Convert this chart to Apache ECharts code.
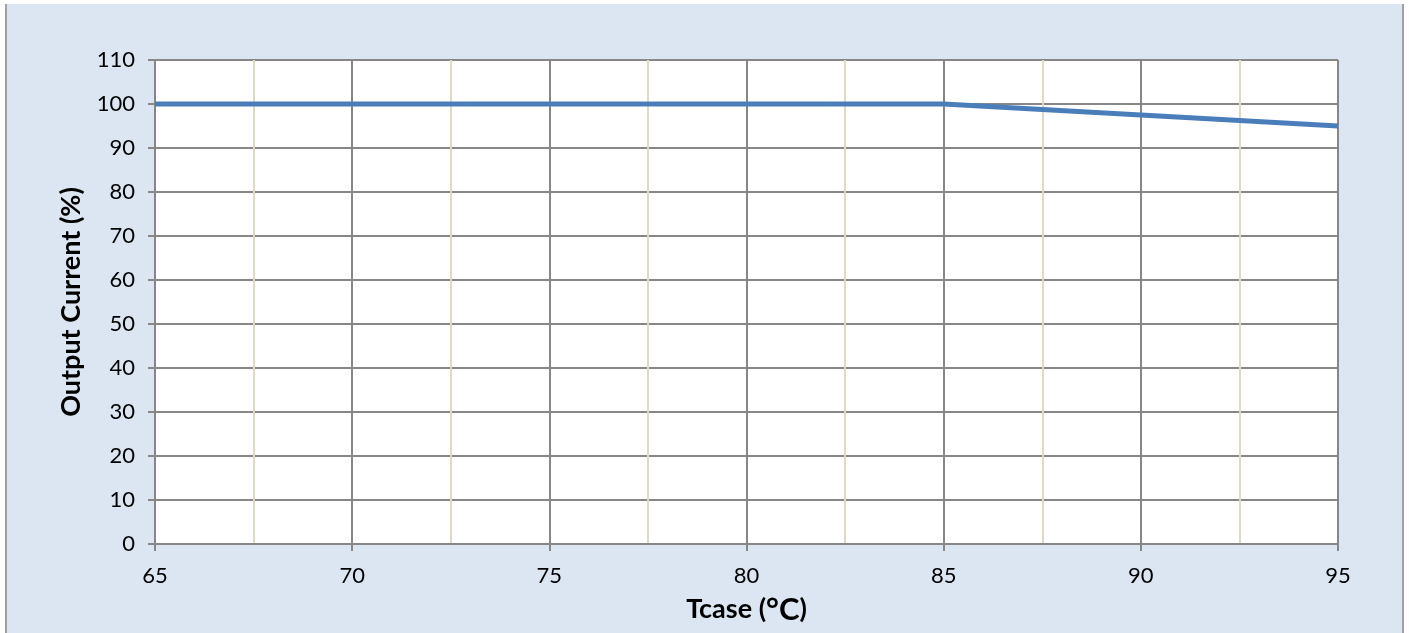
<!DOCTYPE html>
<html><head><meta charset="utf-8">
<script src="https://cdn.jsdelivr.net/npm/echarts@6/dist/echarts.min.js"></script>
<style>
html,body{margin:0;padding:0;background:#fff;}
#wrap{position:absolute;left:5px;top:4px;width:1395px;height:629px;background:#dce6f2;border-left:2px solid #a0a0a0;border-right:2px solid #a0a0a0;}
#c{position:absolute;left:0;top:0;width:1409px;height:633px;}
</style></head>
<body>
<div id="wrap"></div>
<div id="c"></div>
<script>
const tcase = [65, 85, 90, 95];
const outputCurrent = [100, 100, 97.5, 95];
const xTicks = [65, 70, 75, 80, 85, 90, 95];
const yTicks = [0, 10, 20, 30, 40, 50, 60, 70, 80, 90, 100, 110];

const font = 'Lato, "Open Sans", sans-serif';
const chart = echarts.init(document.getElementById('c'), null, {renderer: 'canvas'});
chart.setOption({
  backgroundColor: 'transparent',
  animation: false,
  grid: {left: 155, right: 71, top: 60, bottom: 89, containLabel: false,
         show: true, backgroundColor: '#ffffff', borderWidth: 0},
  xAxis: {
    type: 'value', min: xTicks[0], max: xTicks[xTicks.length - 1], interval: 5,
    name: '{a|Tcase (}{b|°C}{a|)}', nameLocation: 'middle', nameGap: 50,
    nameTextStyle: {fontFamily: font, fontWeight: 'bold', fontSize: 27, color: '#000',
      rich: {
        a: {fontFamily: font, fontWeight: 'bold', fontSize: 27, color: '#000'},
        b: {fontFamily: font, fontWeight: 'bold', fontSize: 31, color: '#000'}
      }},
    axisLine: {show: true, lineStyle: {color: '#878787', width: 2}},
    axisTick: {show: true, length: 7, lineStyle: {color: '#878787', width: 2}},
    axisLabel: {fontFamily: font, fontSize: 22, color: '#000', margin: 21},
    splitLine: {show: true, lineStyle: {color: '#878787', width: 2}},
    minorTick: {show: false, splitNumber: 2},
    minorSplitLine: {show: true, lineStyle: {color: '#ddd9c3', width: 2}}
  },
  yAxis: {
    type: 'value', min: yTicks[0], max: yTicks[yTicks.length - 1], interval: 10,
    name: 'Output Current (%)', nameLocation: 'middle', nameGap: 70, nameRotate: 90,
    nameTextStyle: {fontFamily: font, fontWeight: 'bold', fontSize: 27, color: '#000'},
    axisLine: {show: true, lineStyle: {color: '#878787', width: 2}},
    axisTick: {show: true, length: 7, lineStyle: {color: '#878787', width: 2}},
    axisLabel: {fontFamily: font, fontSize: 22, color: '#000', margin: 20},
    splitLine: {show: true, lineStyle: {color: '#878787', width: 2}}
  },
  series: [{
    type: 'line',
    data: tcase.map((t, i) => [t, outputCurrent[i]]),
    showSymbol: false,
    lineStyle: {color: '#4a7ebb', width: 5},
    z: 5
  }]
});
</script>
</body></html>
